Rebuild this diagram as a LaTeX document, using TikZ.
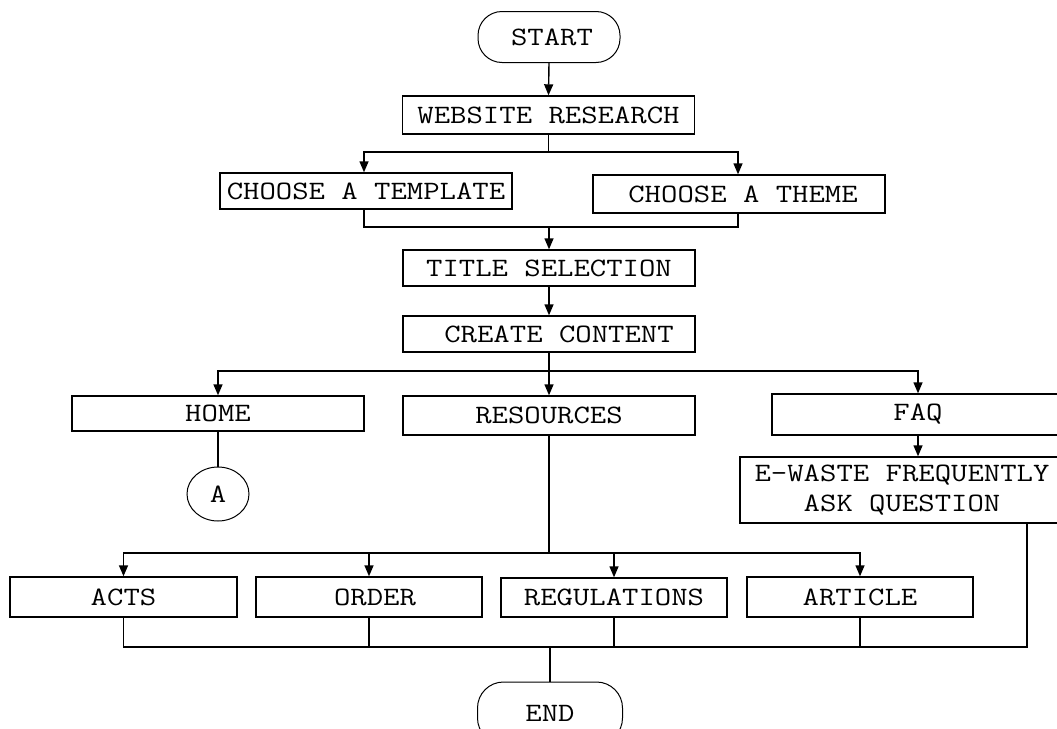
\documentclass[tikz,border=0pt]{standalone}
\usepackage{fontspec}
\newfontfamily\fcfont{Latin Modern Mono}[FakeStretch=1.2]
\usetikzlibrary{arrows.meta,shapes.geometric,calc}
\begin{document}
\begin{tikzpicture}[x=1pt,y=-1pt,
  every node/.style={font=\fcfont\fontsize{26.5}{30}\selectfont},
  box/.style={draw,line width=1.4pt,inner sep=0pt,minimum width=292pt,minimum height=37pt},
  sbox/.style={box,minimum width=226pt,minimum height=40pt},
  term/.style={draw,line width=1pt,rounded corners=24pt,inner sep=0pt},
  ln/.style={line width=1.4pt},
  arr/.style={ln,-{Triangle[length=11pt,width=9pt]}}
]
\clip (0,0) rectangle (1057,728);
\fill[white] (0,0) rectangle (1057,728);
% nodes
\node[term,minimum width=142pt,minimum height=51pt] (start) at (549,37) {\hspace*{6pt}START};
\node[box,minimum height=38pt] (web) at (548.5,115) {WEBSITE RESEARCH};
\node[box,minimum height=36pt] (tmpl) at (366,191) {CHOOSE A TEMPLATE};
\node[box,minimum height=38pt] (theme) at (739,194) {\hspace*{8pt}CHOOSE A THEME};
\node[box,minimum height=36pt] (title) at (549,268) {TITLE SELECTION};
\node[box,minimum height=36pt] (create) at (549,334) {\hspace*{20pt}CREATE CONTENT};
\node[box,minimum height=35pt] (home) at (218,413.5) {HOME};
\node[box,minimum height=39pt] (res) at (549,415.5) {RESOURCES};
\node[box,minimum height=41pt] (faq) at (918,414.5) {FAQ};
\node[box,minimum width=324pt,minimum height=66pt,align=center] (ewaste) at (902,490) {E-WASTE FREQUENTLY\\ ASK QUESTION};
\node[draw,ellipse,line width=1pt,inner sep=0pt,minimum width=62pt,minimum height=54pt] (circA) at (218,494) {A};
\node[sbox,minimum width=227pt] (acts) at (123.5,597) {ACTS};
\node[sbox] (order) at (369,597) {\hspace*{12pt}ORDER};
\node[sbox,minimum height=39pt] (reg) at (614,597.5) {REGULATIONS};
\node[sbox] (art) at (860,597) {ARTICLE};
\node[term,minimum width=145pt,minimum height=62pt,rounded corners=26pt] (end) at (550,713) {END};
% junctions
\coordinate (j1) at (548.5,152);
\coordinate (j2) at (549,227);
\coordinate (j3) at (549,371);
\coordinate (j4) at (549,553);
\coordinate (j5) at (550,647);
\coordinate (ewout) at ($(ewaste.south)+(125,0)$);
% connectors
\draw[arr] (start.south) -- (web.north);
\draw[ln] (web.south) -- (j1);
\draw[arr] (j1) -| ([xshift=-2pt]tmpl.north);
\draw[arr] (j1) -| ([xshift=-1pt]theme.north);
\draw[ln] ([xshift=-2pt]tmpl.south) -- ([xshift=-2pt]tmpl.south |- j2) -- ([xshift=-1pt]theme.south |- j2) -- ([xshift=-1pt]theme.south);
\draw[arr] (j2) -- (title.north);
\draw[arr] (title.south) -- (create.north);
\draw[ln] (create.south) -- (j3);
\draw[arr] (j3) -| (home.north);
\draw[arr] (j3) -- (res.north);
\draw[arr] (j3) -| (faq.north);
\draw[ln] (home.south) -- (circA.north);
\draw[arr] (faq.south) -- (faq.south |- ewaste.north);
\draw[ln] (res.south) -- (j4);
\draw[arr] (j4) -| (acts.north);
\draw[arr] (j4) -| (order.north);
\draw[arr] (j4) -| (reg.north);
\draw[arr] (j4) -| (art.north);
\draw[ln] (acts.south) |- (j5);
\draw[ln] (order.south) -- (order.south |- j5);
\draw[ln] (reg.south) -- (reg.south |- j5);
\draw[ln] (art.south) -- (art.south |- j5);
\draw[ln] (ewout) |- (j5);
\draw[ln] (j5) -- (end.north);
\end{tikzpicture}
\end{document}
